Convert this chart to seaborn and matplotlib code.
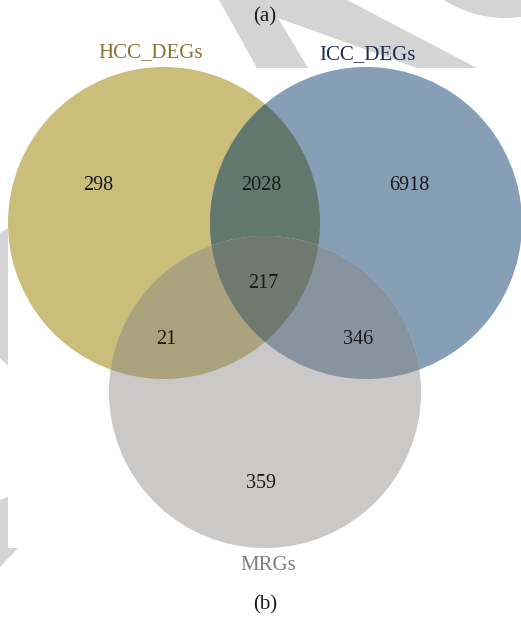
import numpy as np
import matplotlib
matplotlib.use("Agg")
import matplotlib.pyplot as plt
import seaborn as sns
from matplotlib.patches import Circle, Polygon

# --- Data ---
set_names = ["HCC_DEGs", "ICC_DEGs", "MRGs"]
region_keys = ["100", "010", "001", "110", "101", "011", "111"]
region_counts = [298, 6918, 359, 2028, 21, 346, 217]
panel_tags = ["(a)", "(b)"]

# --- Layout (pixel space, y pointing down) ---
circle_centers = [(164, 223), (366, 223), (265, 392)]
circle_radius = 156
label_pos = {"100": (98, 185), "010": (409, 185), "001": (261, 483),
             "110": (261, 185), "101": (166, 340), "011": (358, 340),
             "111": (263, 283)}
name_pos = [(151, 53), (367, 55), (268, 565)]
name_colors = ["#8B7332", "#1F2D52", "#7F7F7F"]
tag_pos = [(265, 17), (265, 605)]

region_colors = dict(zip(region_keys, sns.color_palette(
    ["#CBBD7A", "#879FB6", "#CAC9C7", "#62786E", "#ABA27E", "#8794A0", "#6F796F"])))

# --- Configurations ---
sns.set_theme(style="white")
plt.rcParams["font.family"] = ["Liberation Serif", "DejaVu Serif"]

fig = plt.figure(figsize=(5.21, 6.2), dpi=100)
ax = fig.add_axes([0, 0, 1, 1])
ax.set_xlim(0, 521)
ax.set_ylim(620, 0)
ax.set_aspect("equal")
ax.axis("off")

# background watermark shapes of the source page
wm = "#D4D4D4"
wm_shapes = [
    [(219, 0), (347, 0), (477, 68), (417, 68), (278, 18), (308, 68), (257, 68)],
    [(0, 233), (8, 228), (8, 366), (0, 358)],
    [(0, 500), (8, 497), (8, 548), (18, 548), (0, 567)],
]
for pts in wm_shapes:
    ax.add_patch(Polygon(pts, closed=True, facecolor=wm, edgecolor="none", zorder=0))
ax.add_patch(Circle((505, -95), 113, facecolor=wm, edgecolor="none", zorder=0))


def circ(i, color, z):
    return Circle(circle_centers[i], circle_radius, facecolor=color,
                  edgecolor="none", zorder=z, transform=ax.transData)


def clip_circle(i):
    return Circle(circle_centers[i], circle_radius, transform=ax.transData)


# single sets
ax.add_patch(circ(0, region_colors["100"], 1))
ax.add_patch(circ(1, region_colors["010"], 2))
p = ax.add_patch(circ(1, region_colors["110"], 3))
p.set_clip_path(clip_circle(0))
ax.add_patch(circ(2, region_colors["001"], 4))
p = ax.add_patch(circ(2, region_colors["101"], 5))
p.set_clip_path(clip_circle(0))
p = ax.add_patch(circ(2, region_colors["011"], 6))
p.set_clip_path(clip_circle(1))

# lens of first two circles, clipped to the third -> triple overlap
(ax0, ay0), (bx0, by0) = circle_centers[0], circle_centers[1]
d = np.hypot(bx0 - ax0, by0 - ay0)
phi = np.arctan2(by0 - ay0, bx0 - ax0)
theta = np.arccos(d / 2 / circle_radius)
t1 = np.linspace(phi - theta, phi + theta, 120)
t2 = np.linspace(phi + np.pi - theta, phi + np.pi + theta, 120)
lens = np.vstack([
    np.column_stack([ax0 + circle_radius * np.cos(t1), ay0 + circle_radius * np.sin(t1)]),
    np.column_stack([bx0 + circle_radius * np.cos(t2), by0 + circle_radius * np.sin(t2)]),
])
p = ax.add_patch(Polygon(lens, closed=True, facecolor=region_colors["111"],
                         edgecolor="none", zorder=7))
p.set_clip_path(clip_circle(2))

# counts
for key, n in zip(region_keys, region_counts):
    x, y = label_pos[key]
    ax.text(x, y, str(n), ha="center", va="center", fontsize=14.5,
            color="#1A1A1A", zorder=10)

# set names
for name, (x, y), c in zip(set_names, name_pos, name_colors):
    ax.text(x, y, name, ha="center", va="center", fontsize=15, color=c, zorder=10)

for tag, (x, y) in zip(panel_tags, tag_pos):
    ax.text(x, y, tag, ha="center", va="center", fontsize=15, color="#1A1A1A", zorder=10)

fig.savefig("out.png", dpi=100, facecolor="white")
